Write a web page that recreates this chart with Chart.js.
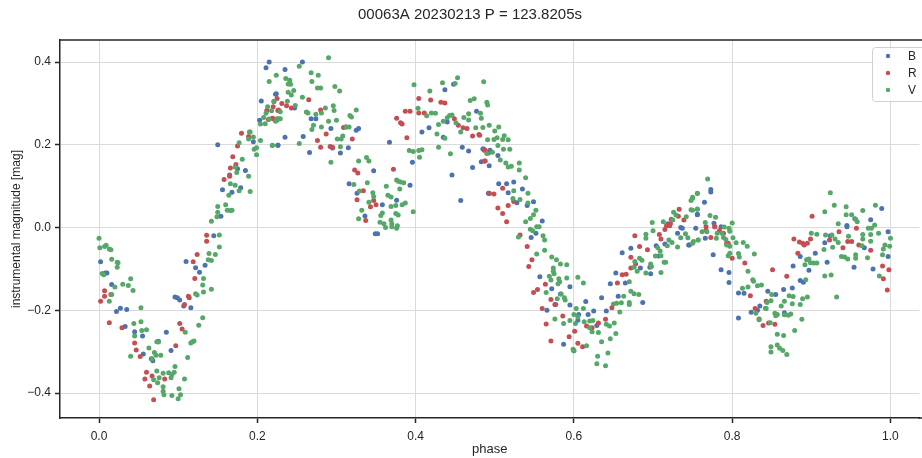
<!DOCTYPE html>
<html>
<head>
<meta charset="utf-8">
<script src="https://cdn.jsdelivr.net/npm/chart.js@4.4.1/dist/chart.umd.min.js"></script>
<style>
  html, body { margin: 0; padding: 0; background: #fff; }
  #wrap { width: 922px; height: 458px; }
</style>
</head>
<body>
<div id="wrap"><canvas id="lc" width="922" height="458"></canvas></div>
<script>
// phase-folded light curve, three filters
const titleText = '00063A 20230213 P = 123.8205s';
const xLabel = 'phase';
const yLabel = 'instrumental magnitude [mag]';
const seriesNames = ['B', 'R', 'V'];
const xTicks = [0, 0.2, 0.4, 0.6, 0.8, 1.0];
const yTicks = [-0.4, -0.2, 0, 0.2, 0.4];

// [phase, mag]
const ptsB = [
  [0.002,-0.083],[0.008,-0.110],[0.010,-0.110],[0.016,-0.138],[0.027,-0.195],[0.022,-0.203],[0.035,-0.198],[0.033,-0.239],
  [0.045,-0.252],[0.055,-0.262],[0.085,-0.253],[0.056,-0.306],[0.075,-0.275],[0.066,-0.317],[0.068,-0.322],[0.091,-0.297],
  [0.145,-0.020],[0.110,-0.082],[0.134,-0.091],[0.122,-0.097],[0.127,-0.108],[0.096,-0.168],[0.099,-0.170],[0.102,-0.175],
  [0.107,-0.190],[0.116,-0.194],
  [0.215,0.400],[0.211,0.386],[0.223,0.322],[0.205,0.306],[0.203,0.259],[0.195,0.207],[0.226,0.199],[0.150,0.200],
  [0.175,0.142],[0.185,0.138],[0.165,0.127],[0.156,0.091],[0.179,0.096],[0.168,0.085],[0.154,0.027],
  [0.257,0.400],[0.235,0.382],[0.224,0.323],[0.247,0.289],[0.235,0.218],[0.226,0.199],[0.258,0.220],[0.266,0.181],
  [0.268,0.263],[0.274,0.263],[0.293,0.239],[0.325,0.235],[0.328,0.239],[0.315,0.193],[0.305,0.180],[0.295,0.192],
  [0.347,0.137],[0.316,0.106],[0.326,0.083],[0.376,0.066],[0.358,0.055],[0.336,0.028],[0.393,0.102],[0.396,0.158],
  [0.367,0.206],[0.417,0.241],[0.435,0.218],[0.448,0.346],[0.437,0.333],[0.440,0.255],[0.477,0.281],[0.459,0.194],
  [0.467,0.185],[0.472,0.145],[0.446,0.127],[0.457,0.065],[0.492,0.083],[0.486,0.190],[0.408,0.231],
  [0.349,-0.015],[0.352,-0.015],
  [0.485,0.190],[0.494,0.187],[0.504,0.174],[0.483,0.159],[0.493,0.149],[0.505,0.106],[0.515,0.106],[0.524,0.110],
  [0.517,0.084],[0.535,0.093],[0.528,0.060],[0.549,0.062],[0.541,0.053],[0.560,0.016],[0.719,0.009],[0.756,0.031],
  [0.735,0.000],
  [0.546,-0.024],[0.552,-0.014],[0.557,-0.119],[0.595,-0.143],[0.572,-0.148],[0.583,-0.161],[0.577,-0.186],[0.566,-0.200],
  [0.595,-0.187],[0.615,-0.179],[0.625,-0.202],[0.606,-0.210],[0.618,-0.210],[0.605,-0.224],[0.629,-0.237],[0.587,-0.282],
  [0.635,-0.170],[0.641,-0.202],[0.646,-0.136],[0.653,-0.110],[0.656,-0.166],[0.665,-0.134],[0.672,-0.050],[0.661,-0.061],
  [0.687,-0.181],[0.697,-0.112],[0.696,-0.096],[0.684,-0.098],[0.707,-0.069],[0.704,-0.044],[0.715,-0.040],[0.731,-0.014],
  [0.737,-0.002],[0.745,-0.042],[0.754,-0.002],
  [0.773,0.092],[0.773,0.086],[0.765,0.061],[0.756,0.032],[0.777,0.010],[0.786,0.002],[0.989,0.046],[0.975,0.019],
  [0.955,0.021],[0.945,0.005],
  [0.766,-0.026],[0.776,-0.066],[0.786,-0.102],[0.796,-0.109],[0.796,-0.133],[0.746,-0.042],[0.808,-0.158],[0.815,-0.159],
  [0.824,-0.205],[0.832,-0.200],[0.835,-0.190],[0.845,-0.154],[0.855,-0.162],[0.865,-0.150],[0.876,-0.146],[0.877,-0.093],
  [0.886,-0.070],[0.886,-0.128],[0.890,-0.132],[0.866,-0.206],[0.808,-0.219],[0.897,-0.103],[0.905,-0.062],[0.920,-0.084],
  [0.917,-0.037],[0.924,-0.020],[0.945,0.002],[0.954,-0.096],[0.967,-0.049],[0.978,-0.100],[0.997,-0.070],[0.997,-0.010]
];

const ptsR = [
  [0.007,-0.153],[0.007,-0.166],[0.002,-0.178],[0.015,-0.162],[0.013,-0.230],[0.029,-0.242],[0.045,-0.279],[0.047,-0.296],
  [0.052,-0.312],[0.097,-0.286],[0.060,-0.350],[0.067,-0.359],[0.058,-0.366],[0.064,-0.383],[0.069,-0.416],[0.083,-0.366],
  [0.136,-0.019],[0.136,-0.033],[0.124,-0.065],[0.119,-0.083],[0.121,-0.123],[0.113,-0.166],[0.114,-0.170],[0.108,-0.186],
  [0.102,-0.232],[0.105,-0.245],
  [0.225,0.312],[0.220,0.292],[0.212,0.283],[0.226,0.283],[0.214,0.261],[0.219,0.264],[0.180,0.228],[0.189,0.220],
  [0.175,0.197],[0.169,0.171],[0.173,0.152],[0.166,0.144],[0.165,0.124],[0.158,0.116],
  [0.231,0.300],[0.237,0.294],[0.243,0.289],[0.265,0.309],[0.280,0.284],[0.227,0.284],[0.221,0.262],[0.225,0.260],
  [0.276,0.210],[0.287,0.226],[0.320,0.214],[0.280,0.194],[0.292,0.196],[0.295,0.194],[0.309,0.242],[0.312,0.243],
  [0.323,0.139],[0.327,0.132],[0.372,0.141],[0.334,0.089],[0.326,0.067],[0.347,0.065],[0.343,0.050],[0.350,0.055],
  [0.337,0.017],[0.376,0.264],[0.381,0.253],[0.383,0.250],[0.389,0.217],[0.387,0.281],[0.393,0.281],[0.404,0.312],
  [0.419,0.308],[0.404,0.277],[0.411,0.277],[0.432,0.303],[0.437,0.301],[0.449,0.263],[0.454,0.247],[0.460,0.241],
  [0.465,0.239],[0.472,0.221],[0.480,0.225],[0.488,0.187],[0.492,0.180],[0.493,0.082],[0.488,0.161],
  [0.481,0.223],[0.487,0.187],[0.487,0.161],[0.493,0.083],[0.499,0.081],[0.510,0.095],[0.524,0.063],[0.517,0.053],
  [0.504,0.047],[0.510,0.034],[0.515,0.014],[0.723,0.020],[0.733,0.044],[0.732,0.027],[0.739,0.018],[0.717,0.004],
  [0.722,0.009],
  [0.532,-0.018],[0.541,-0.046],[0.547,-0.078],[0.543,-0.094],[0.549,-0.157],[0.554,-0.150],[0.564,-0.137],[0.571,-0.174],
  [0.576,-0.186],[0.560,-0.196],[0.565,-0.233],[0.586,-0.214],[0.571,-0.274],[0.594,-0.264],[0.601,-0.251],[0.605,-0.280],
  [0.611,-0.288],[0.600,-0.298],[0.616,-0.238],[0.623,-0.242],[0.631,-0.231],[0.640,-0.222],[0.648,-0.194],[0.655,-0.134],
  [0.661,-0.114],[0.666,-0.113],[0.672,-0.098],[0.672,-0.072],[0.678,-0.088],[0.677,-0.020],[0.683,-0.046],[0.693,-0.054],
  [0.708,-0.017],[0.710,-0.028],[0.715,-0.005],[0.721,0.004],
  [0.767,0.002],[0.778,0.002],[0.901,0.027],[0.957,-0.002],
  [0.767,-0.006],[0.773,-0.024],[0.778,0.002],[0.784,-0.007],[0.789,-0.014],[0.793,-0.038],[0.795,-0.038],[0.800,-0.074],
  [0.816,-0.086],[0.851,-0.102],[0.869,-0.118],[0.823,-0.165],[0.829,-0.196],[0.834,-0.221],[0.839,-0.237],[0.846,-0.231],
  [0.854,-0.234],[0.843,-0.178],[0.878,-0.028],[0.885,-0.035],[0.889,-0.038],[0.891,-0.042],[0.895,-0.038],[0.899,-0.028],
  [0.883,-0.062],[0.935,-0.010],[0.940,-0.049],[0.946,-0.034],[0.951,-0.034],[0.960,-0.042],[0.975,-0.055],[0.990,-0.093],
  [0.991,-0.124],[0.996,-0.151],[0.998,-0.102],[0.923,-0.030]
];

const ptsV = [
  [0.000,-0.026],[0.001,-0.049],[0.007,-0.046],[0.009,-0.043],[0.013,-0.052],[0.015,-0.054],[0.016,-0.077],[0.023,-0.084],
  [0.024,-0.085],[0.023,-0.096],[0.004,-0.111],[0.006,-0.114],[0.020,-0.144],[0.030,-0.137],[0.037,-0.140],[0.040,-0.124],
  [0.043,-0.152],[0.016,-0.162],[0.013,-0.178],[0.053,-0.194],[0.044,-0.232],[0.053,-0.228],[0.054,-0.249],[0.060,-0.247],
  [0.045,-0.262],[0.040,-0.311],[0.063,-0.291],[0.070,-0.302],[0.072,-0.309],[0.078,-0.309],[0.075,-0.277],[0.073,-0.276],
  [0.067,-0.317],[0.112,-0.314],[0.073,-0.347],[0.081,-0.352],[0.088,-0.351],[0.092,-0.356],[0.095,-0.350],[0.096,-0.336],
  [0.076,-0.363],[0.069,-0.368],[0.074,-0.375],[0.081,-0.385],[0.081,-0.396],[0.082,-0.404],[0.092,-0.406],[0.100,-0.414],
  [0.103,-0.404],[0.101,-0.390],[0.108,-0.366],[0.091,-0.363],[0.152,-0.018],[0.152,-0.047],[0.139,-0.063],[0.147,-0.065],
  [0.138,-0.078],[0.142,-0.080],[0.132,-0.123],[0.131,-0.139],[0.142,-0.149],[0.132,-0.156],[0.122,-0.160],[0.124,-0.163],
  [0.131,-0.218],[0.126,-0.236],[0.109,-0.253],[0.118,-0.276],[0.120,-0.274],[0.116,-0.279],
  [0.224,0.368],[0.215,0.353],[0.221,0.305],[0.213,0.292],[0.218,0.282],[0.211,0.276],[0.208,0.266],[0.204,0.250],
  [0.210,0.251],[0.215,0.262],[0.223,0.257],[0.227,0.263],[0.190,0.231],[0.191,0.231],[0.189,0.214],[0.195,0.219],
  [0.204,0.210],[0.177,0.205],[0.196,0.189],[0.199,0.193],[0.199,0.176],[0.219,0.198],[0.181,0.165],[0.172,0.146],
  [0.174,0.133],[0.189,0.124],[0.166,0.106],[0.172,0.102],[0.177,0.089],[0.191,0.087],[0.164,0.078],[0.160,0.055],
  [0.150,0.051],[0.162,0.042],[0.166,0.041],[0.168,0.042],[0.150,0.037],[0.149,0.026],[0.142,0.015],
  [0.290,0.410],[0.253,0.390],[0.268,0.374],[0.277,0.368],[0.236,0.360],[0.241,0.356],[0.239,0.347],[0.242,0.346],
  [0.269,0.353],[0.280,0.337],[0.276,0.337],[0.298,0.341],[0.304,0.330],[0.246,0.331],[0.239,0.327],[0.243,0.320],
  [0.221,0.304],[0.229,0.280],[0.238,0.305],[0.248,0.295],[0.257,0.315],[0.262,0.279],[0.264,0.277],[0.274,0.274],
  [0.286,0.289],[0.296,0.294],[0.297,0.283],[0.281,0.277],[0.290,0.257],[0.300,0.259],[0.317,0.271],[0.319,0.267],
  [0.325,0.284],[0.312,0.243],[0.316,0.243],[0.225,0.263],[0.229,0.263],[0.269,0.237],[0.281,0.243],[0.271,0.247],
  [0.308,0.221],[0.306,0.214],[0.301,0.214],[0.305,0.195],[0.293,0.158],[0.219,0.199],[0.253,0.203],
  [0.328,0.161],[0.338,0.169],[0.341,0.161],[0.322,0.104],[0.339,0.108],[0.329,0.088],[0.346,0.084],[0.347,0.075],
  [0.363,0.100],[0.365,0.078],[0.369,0.074],[0.376,0.115],[0.378,0.112],[0.381,0.110],[0.385,0.108],[0.380,0.093],
  [0.387,0.059],[0.383,0.055],[0.375,0.053],[0.369,0.051],[0.341,0.061],[0.358,0.035],[0.356,0.029],[0.375,0.034],
  [0.378,0.030],[0.369,0.018],[0.355,0.013],[0.360,0.009],[0.370,0.009],[0.377,0.004],[0.328,0.021],[0.332,0.042],
  [0.397,0.038],[0.362,0.000],[0.370,0.002],[0.376,-0.002],
  [0.392,0.186],[0.397,0.184],[0.404,0.186],[0.408,0.188],[0.405,0.170],[0.398,0.345],[0.403,0.288],
  [0.418,0.330],[0.434,0.350],[0.453,0.362],[0.450,0.348],[0.414,0.270],[0.420,0.277],[0.425,0.276],[0.429,0.249],
  [0.435,0.257],[0.440,0.265],[0.443,0.271],[0.446,0.272],[0.451,0.253],[0.457,0.231],[0.461,0.266],[0.467,0.275],
  [0.467,0.260],[0.469,0.307],[0.474,0.311],[0.483,0.264],[0.486,0.352],[0.490,0.303],[0.476,0.241],[0.427,0.226],
  [0.437,0.216],[0.429,0.194],[0.444,0.178],
  [0.491,0.296],[0.482,0.276],[0.485,0.242],[0.493,0.247],[0.500,0.233],[0.505,0.243],[0.491,0.212],[0.499,0.213],
  [0.503,0.217],[0.510,0.213],[0.517,0.212],[0.512,0.222],[0.490,0.179],[0.497,0.182],[0.504,0.198],[0.511,0.189],
  [0.519,0.189],[0.507,0.163],[0.514,0.156],[0.517,0.146],[0.521,0.148],[0.531,0.156],[0.531,0.139],[0.539,0.120],
  [0.542,0.083],[0.524,0.089],[0.523,0.070],[0.532,0.068],[0.542,0.059],[0.549,0.031],[0.552,0.042],[0.545,0.022],
  [0.539,0.014],[0.553,0.002],[0.545,-0.004],
  [0.699,0.012],[0.713,0.014],[0.726,0.037],[0.729,0.030],[0.748,0.043],[0.750,0.073],[0.756,0.083],[0.756,0.044],
  [0.742,0.026],[0.725,0.018],
  [0.530,-0.023],[0.548,-0.008],[0.556,0.002],[0.561,-0.020],[0.563,-0.030],[0.553,-0.064],[0.563,-0.055],[0.572,-0.071],
  [0.578,-0.078],[0.583,-0.088],[0.591,-0.090],[0.574,-0.098],[0.574,-0.106],[0.575,-0.112],[0.569,-0.118],[0.571,-0.127],
  [0.581,-0.124],[0.582,-0.131],[0.580,-0.136],[0.591,-0.122],[0.605,-0.120],[0.612,-0.134],[0.565,-0.157],[0.584,-0.161],
  [0.588,-0.170],[0.589,-0.175],[0.579,-0.172],[0.603,-0.196],[0.612,-0.196],[0.600,-0.210],[0.605,-0.216],[0.602,-0.232],
  [0.595,-0.225],[0.576,-0.221],[0.587,-0.232],[0.613,-0.228],[0.620,-0.226],[0.620,-0.242],[0.624,-0.225],[0.623,-0.252],
  [0.631,-0.254],[0.641,-0.234],[0.645,-0.238],[0.651,-0.231],[0.653,-0.256],[0.646,-0.269],[0.635,-0.276],[0.616,-0.286],
  [0.643,-0.303],[0.630,-0.311],[0.629,-0.329],[0.640,-0.334],[0.599,-0.294],[0.600,-0.298],
  [0.650,-0.185],[0.654,-0.183],[0.660,-0.182],[0.658,-0.204],[0.663,-0.166],[0.670,-0.181],[0.670,-0.186],[0.672,-0.154],
  [0.676,-0.160],[0.682,-0.162],[0.670,-0.131],[0.676,-0.096],[0.680,-0.106],[0.677,-0.082],[0.683,-0.074],[0.686,-0.079],
  [0.691,-0.110],[0.697,-0.088],[0.698,-0.094],[0.691,-0.026],[0.691,-0.016],[0.700,-0.008],[0.703,-0.069],[0.706,-0.049],
  [0.709,-0.057],[0.710,-0.068],[0.710,-0.109],[0.714,-0.084],[0.716,-0.084],[0.718,-0.044],[0.720,-0.030],[0.724,-0.036],
  [0.731,-0.047],[0.735,-0.025],[0.741,-0.015],[0.744,-0.025],[0.750,-0.038],[0.757,-0.030],
  [0.769,0.117],[0.756,0.082],[0.750,0.071],[0.748,0.065],[0.750,0.042],[0.756,0.045],[0.772,0.029],[0.779,0.025],
  [0.766,0.012],[0.800,0.011],[0.790,0.001],[0.796,-0.002],[0.924,0.084],[0.929,0.054],[0.917,0.038],[0.944,0.050],
  [0.944,0.031],[0.951,0.031],[0.956,0.020],[0.958,0.014],[0.965,0.041],[0.981,0.054],[0.934,0.009],[0.980,0.006],
  [0.972,-0.002],
  [0.751,-0.034],[0.757,-0.030],[0.762,-0.010],[0.768,-0.010],[0.780,-0.026],[0.781,-0.014],[0.787,-0.014],[0.789,-0.024],
  [0.792,-0.029],[0.793,-0.042],[0.797,-0.045],[0.797,-0.009],[0.801,-0.025],[0.805,-0.037],[0.814,-0.036],[0.819,-0.045],
  [0.828,-0.064],[0.808,-0.063],[0.809,-0.071],[0.795,-0.068],[0.797,-0.062],[0.820,-0.106],[0.826,-0.126],[0.827,-0.130],
  [0.832,-0.141],[0.837,-0.139],[0.813,-0.147],[0.820,-0.144],[0.850,-0.162],[0.849,-0.177],[0.844,-0.181],[0.843,-0.196],
  [0.854,-0.207],[0.857,-0.210],[0.855,-0.213],[0.848,-0.230],[0.857,-0.258],[0.865,-0.261],[0.857,-0.284],[0.860,-0.292],
  [0.864,-0.297],[0.869,-0.307],[0.849,-0.288],[0.849,-0.301],[0.879,-0.249],[0.866,-0.211],[0.874,-0.209],[0.871,-0.212],
  [0.872,-0.165],[0.877,-0.167],[0.866,-0.178],[0.862,-0.190],[0.876,-0.184],[0.886,-0.186],[0.889,-0.172],[0.895,-0.168],
  [0.888,-0.222],[0.893,-0.126],[0.830,-0.207],[0.834,-0.223],[0.842,-0.195],
  [0.892,-0.090],[0.894,-0.078],[0.897,-0.076],[0.899,-0.085],[0.903,-0.086],[0.907,-0.086],[0.900,-0.014],[0.907,-0.016],
  [0.916,-0.053],[0.917,-0.117],[0.925,-0.115],[0.918,-0.018],[0.926,-0.018],[0.927,-0.048],[0.930,-0.028],[0.934,-0.036],
  [0.938,-0.070],[0.942,-0.071],[0.947,-0.021],[0.946,-0.076],[0.956,-0.066],[0.956,-0.074],[0.964,-0.044],[0.965,-0.028],
  [0.971,-0.073],[0.975,-0.033],[0.976,-0.002],[0.985,-0.014],[0.986,-0.117],[0.991,-0.052],[0.993,-0.042],[0.999,-0.045],
  [1.000,-0.026],[0.990,-0.066],[0.932,-0.168],[0.965,-0.017],[0.975,-0.017]
];

const colB = '#4c72b0';
const colR = '#c44e52';
const colV = '#55a868';
const ink = '#262626';
const fontFam = '"Liberation Sans", Arial, Helvetica, sans-serif';

function toXY(arr) { return arr.map(p => ({ x: p[0], y: p[1] })); }
function fmtTick(v) { return v.toFixed(1).replace('-', '\u2212'); }

// title, top/bottom spine ends and legend drawn after the chart
const extras = {
  id: 'extras',
  afterDraw(chart) {
    const ctx = chart.ctx;
    const a = chart.chartArea;
    ctx.save();
    ctx.strokeStyle = ink;
    ctx.lineWidth = 1.5;
    ctx.beginPath();
    ctx.moveTo(a.left - 0.75, a.top);
    ctx.lineTo(chart.width, a.top);
    ctx.moveTo(a.right - 1, a.bottom);
    ctx.lineTo(chart.width, a.bottom);
    ctx.stroke();

    // title
    ctx.fillStyle = ink;
    ctx.font = '15px ' + fontFam;
    ctx.textAlign = 'center';
    ctx.textBaseline = 'alphabetic';
    ctx.fillText(titleText, 470, 19);

    // legend box
    const lx = 872, ly = 47, lw = 70, lh = 54;
    ctx.fillStyle = 'rgba(255,255,255,0.85)';
    ctx.strokeStyle = '#d0d0d0';
    ctx.lineWidth = 1;
    ctx.beginPath();
    ctx.roundRect(lx + 0.5, ly + 0.5, lw, lh, 3);
    ctx.fill();
    ctx.stroke();
    const cols = [colB, colR, colV];
    ctx.font = '12px ' + fontFam;
    ctx.textAlign = 'left';
    ctx.textBaseline = 'middle';
    seriesNames.forEach((n, i) => {
      const yy = 56 + i * 17;
      ctx.fillStyle = cols[i];
      ctx.beginPath();
      ctx.arc(888, yy, 2.2, 0, Math.PI * 2);
      ctx.fill();
      ctx.fillStyle = ink;
      ctx.fillText(n, 908, yy + 1);
    });
    ctx.restore();
  }
};

const mkSet = (label, pts, color, order) => ({
  label, data: toXY(pts), order,
  backgroundColor: color, borderColor: color, borderWidth: 0,
  pointRadius: 2.5, pointHoverRadius: 2.5, showLine: false
});

new Chart(document.getElementById('lc'), {
  type: 'scatter',
  data: {
    datasets: [
      mkSet(seriesNames[0], ptsB, colB, 3),
      mkSet(seriesNames[1], ptsR, colR, 2),
      mkSet(seriesNames[2], ptsV, colV, 1)
    ]
  },
  options: {
    responsive: false,
    animation: false,
    devicePixelRatio: 1,
    layout: { padding: { top: 40, left: 0, right: 0, bottom: 0 } },
    plugins: { legend: { display: false }, tooltip: { enabled: false }, title: { display: false } },
    scales: {
      x: {
        type: 'linear', min: -0.0493, max: 1.0367,
        afterFit: s => { s.height = 40; },
        afterBuildTicks: s => { s.ticks = xTicks.map(v => ({ value: v })); },
        grid: { color: '#dadada', lineWidth: 1, drawTicks: true, tickLength: 5, tickColor: ink, tickWidth: 1.5 },
        border: { display: true, color: ink, width: 1.5 },
        ticks: { color: ink, font: { size: 12, family: fontFam }, padding: 6, maxRotation: 0, callback: v => fmtTick(v) },
        title: { display: true, text: xLabel, color: ink, font: { size: 13, family: fontFam }, padding: { top: 0, bottom: 1 } }
      },
      y: {
        type: 'linear', min: -0.4604, max: 0.4532,
        afterFit: s => { s.width = 60; },
        afterBuildTicks: s => { s.ticks = yTicks.map(v => ({ value: v })); },
        grid: { color: '#dadada', lineWidth: 1, drawTicks: true, tickLength: 5, tickColor: ink, tickWidth: 1.5 },
        border: { display: true, color: ink, width: 1.5 },
        ticks: { color: ink, font: { size: 12, family: fontFam }, padding: 4, callback: v => fmtTick(v) },
        title: { display: true, text: yLabel, color: ink, font: { size: 12, family: fontFam }, padding: { top: 9, bottom: 0 } }
      }
    }
  },
  plugins: [extras]
});
</script>
</body>
</html>
